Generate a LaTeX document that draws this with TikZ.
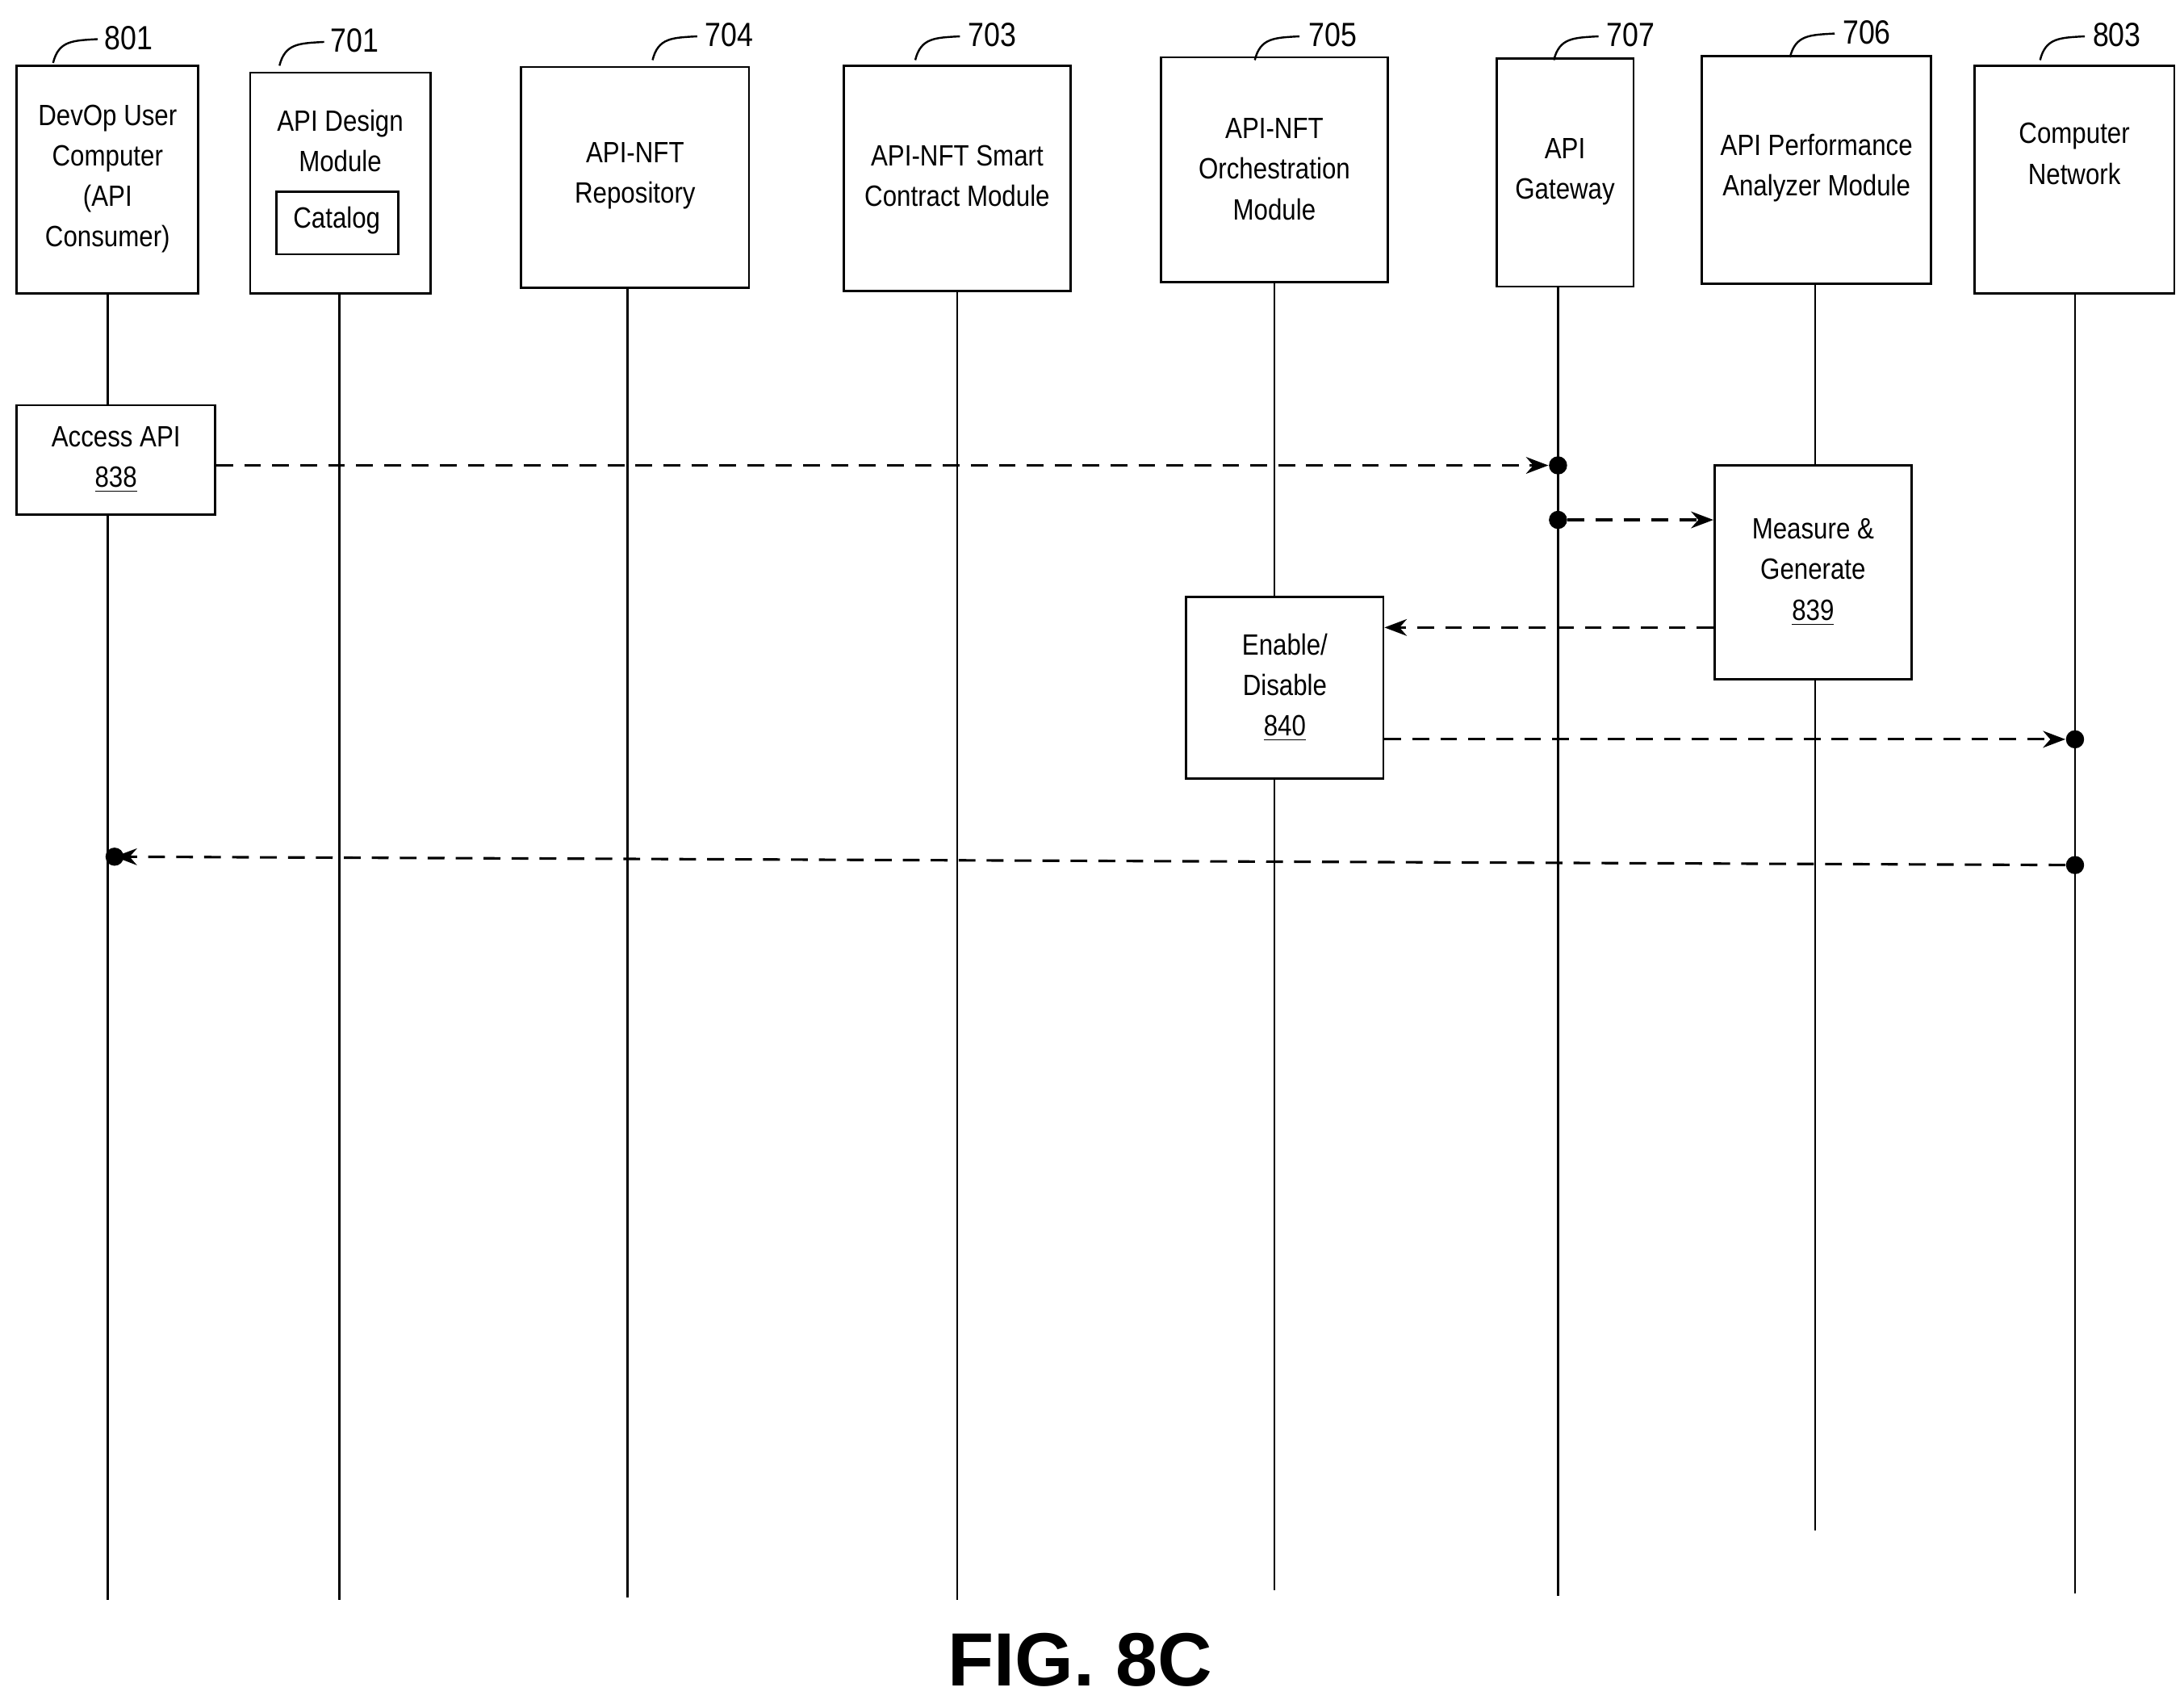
\documentclass[tikz,border=0pt]{standalone}
\usepackage{fontspec}
\setmainfont{Liberation Sans}[FakeStretch=0.86]
\newfontfamily\figfont{Liberation Sans}
\usetikzlibrary{arrows.meta}
\begin{document}
\begin{tikzpicture}[x=0.5pt,y=-0.5pt,
  box/.style={draw,line width=0.8pt,align=center,font=\fontsize{10.5}{14.5}\selectfont},
  life/.style={line width=0.7pt},
  msg/.style={line width=0.9pt,dash pattern=on 6pt off 4pt,-{Stealth[length=8pt,width=6pt]}},
  dot/.style={circle,fill,inner sep=0pt,minimum size=6.5pt},
  ref/.style={font=\fontsize{12}{14}\selectfont},
  hook/.style={line width=0.7pt}]
\useasboundingbox (0,0) rectangle (1563,1216);
\fill[white] (0,0) rectangle (1563,1216);
% header boxes
\newcommand{\hdr}[8]{%
  \draw[line width=0.8pt] (#2,#3) rectangle (#4,#5);
  \node[box,draw=none] (#1) at ({(#2+#4)/2},#6) {#7};
  \coordinate (#1t) at ({(#2+#4)/2},#5);
}
\hdr{a}{12}{47}{142}{210}{128}{DevOp User\\Computer\\(API\\Consumer)}{}
\hdr{b}{179}{52}{308}{210}{101}{API Design\\Module}{}
\hdr{c}{373}{48}{536}{206}{126}{API-NFT\\Repository}{}
\hdr{d}{604}{47}{766}{208}{126}{API-NFT Smart\\Contract Module}{}
\hdr{e}{831}{41}{993}{202}{121}{API-NFT\\Orchestration\\Module}{}
\hdr{f}{1071}{42}{1169}{205}{123}{API\\Gateway}{}
\hdr{g}{1218}{40}{1382}{203}{120}{API Performance\\Analyzer Module}{}
\hdr{h}{1413}{47}{1556}{210}{110}{Computer\\Network}{}
\draw[line width=0.8pt] (198,137) rectangle (285,182);
\node[box,draw=none] (cat) at (241,158) {Catalog};
% ref numbers
\foreach \n/\x/\y/\hx in {801/92/27/38,701/254/29/200,704/522/25/467,703/710/25/655,705/954/25/898,707/1167/25/1112,706/1336/23/1281,803/1515/25/1460}{
  \node[ref] at (\x,\y) {\n};
  \draw[hook] (\hx,{\y+18}) .. controls ({\hx+4},{\y+2}) and ({\hx+14},{\y+2}) .. ({\hx+32},{\y+1});
}
% lifelines
\foreach \x/\t/\bt in {77/210/1145,243/210/1145,449/206/1143,685/208/1145,912/202/1138,1115/205/1142,1299/203/1095,1485/210/1140}{
  \draw[life] (\x,\t) -- (\x,\bt);
}
% activation boxes
\node[box,fill=white,minimum width=71pt,minimum height=39pt] (acc) at (83,329) {Access API\\\underline{838}};
\node[box,fill=white,minimum width=70.5pt,minimum height=76.5pt] (meas) at (1297.5,409.5) {Measure \&\\Generate\\\underline{839}};
\node[box,fill=white,minimum width=70.5pt,minimum height=65pt] (en) at (919.5,492) {Enable/\\Disable\\\underline{840}};
% dots
\node[dot] (d1) at (1115,333) {};
\node[dot] (d2) at (1115,372) {};
\node[dot] (d3) at (1485,529) {};
\node[dot] (d4) at (1485,619) {};
\node[dot] (d5) at (82,613) {};
% messages
\draw[msg] (acc.east |- 0,333) -- (d1.west);
\draw[msg] (d2) -- (meas.west |- 0,372);
\draw[msg] (meas.west |- 0,449) -- (en.east |- 0,449);
\draw[msg] (en.east |- 0,529) -- (d3.west);
\draw[msg] (d4) -- (d5.center);
\node[font=\figfont\bfseries\fontsize{27}{30}\selectfont] (fig) at (773,1188) {FIG. 8C};
\end{tikzpicture}
\end{document}
